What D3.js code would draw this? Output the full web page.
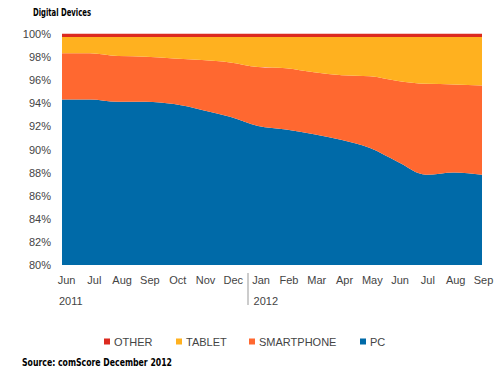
<!DOCTYPE html>
<html lang="en">
<head>
  <meta charset="UTF-8" />
  <title>Digital Devices</title>
  <style>
  body { margin: 0; background: #fff; }
  text { font-family: "Liberation Sans", Arial, sans-serif; }
  .tick text { fill: #444; font-size: 11px; }
  .heavy { font-family: "DejaVu Sans Condensed", "DejaVu Sans", sans-serif; font-weight: bold; fill: #000; }
  </style>
</head>
<body>
  <script src="https://cdn.jsdelivr.net/npm/d3@7"></script>
  <script>
  // months Jun 2011 .. Sep 2012
  var months = ["Jun", "Jul", "Aug", "Sep", "Oct", "Nov", "Dec", "Jan", "Feb", "Mar", "Apr", "May", "Jun", "Jul", "Aug", "Sep"];
  var years = [{label: "2011", at: 0}, {label: "2012", at: 7}];
  var seriesNames = ["PC", "SMARTPHONE", "TABLET", "OTHER"];
  var colors = {PC: "#006aa8", SMARTPHONE: "#ff6830", TABLET: "#ffb11f", OTHER: "#dc2a1f"};

  // share of devices, percent
  var pc         = [94.3, 94.3, 94.1, 94.1, 93.9, 93.4, 92.8, 92.0, 91.7, 91.3, 90.8, 90.1, 88.9, 87.8, 88.0, 87.8];
  var smartphone = [4.0, 4.0, 3.95, 3.9, 3.95, 4.3, 4.7, 5.1, 5.3, 5.35, 5.6, 6.2, 7.0, 7.85, 7.6, 7.7];
  var tablet     = [1.4, 1.4, 1.65, 1.7, 1.85, 2.0, 2.2, 2.6, 2.7, 3.05, 3.3, 3.4, 3.8, 4.05, 4.1, 4.2];
  var other      = [0.3, 0.3, 0.3, 0.3, 0.3, 0.3, 0.3, 0.3, 0.3, 0.3, 0.3, 0.3, 0.3, 0.3, 0.3, 0.3];
  var yTicks = [80, 82, 84, 86, 88, 90, 92, 94, 96, 98, 100];

  var table = months.map(function(m, i) {
    return {i: i, PC: pc[i], SMARTPHONE: smartphone[i], TABLET: tablet[i], OTHER: other[i]};
  });

  var w = 500, h = 370;
  var svg = d3.select("body").append("svg")
    .attr("width", w)
    .attr("height", h);

  var x = d3.scaleLinear().domain([0, months.length - 1]).range([62, 482]);
  var xLab = d3.scalePoint().domain(d3.range(months.length)).range([66, 483]);
  var y = d3.scaleLinear().domain([80, 100]).range([265, 33.5]);

  var stack = d3.stack().keys(seriesNames);
  var layers = stack(table);

  svg.append("clipPath").attr("id", "clip")
    .append("rect").attr("x", 62).attr("y", y(100)).attr("width", 420).attr("height", y(80) - y(100));

  var area = d3.area()
    .curve(d3.curveMonotoneX)
    .x(function(d) { return x(d.data.i); })
    .y0(function(d) { return y(Math.max(d[0], 80)); })
    .y1(function(d) { return y(d[1]); });

  svg.append("g").attr("clip-path", "url(#clip)")
    .selectAll("path")
    .data(layers)
    .enter()
    .append("path")
      .attr("fill", function(d) { return colors[d.key]; })
      .attr("d", area);

  // y axis labels
  var yAxis = d3.axisLeft(y).tickValues(yTicks).tickSize(0).tickPadding(0)
    .tickFormat(function(d) { return d + "%"; });
  svg.append("g")
    .attr("transform", "translate(51,0)")
    .call(yAxis)
    .call(function(g) { g.select(".domain").remove(); })
    .selectAll("text").attr("dy", "0.35em");

  // x axis month labels
  var xAxis = d3.axisBottom(xLab).tickSize(0).tickPadding(0)
    .tickFormat(function(i) { return months[i]; });
  svg.append("g")
    .attr("transform", "translate(0,276)")
    .call(xAxis)
    .call(function(g) { g.select(".domain").remove(); });

  svg.selectAll(".year")
    .data(years)
    .enter()
    .append("text")
      .attr("class", "year")
      .attr("x", function(d) { return xLab(d.at) - 7; })
      .attr("y", 305)
      .attr("fill", "#444")
      .style("font-size", "11px")
      .text(function(d) { return d.label; });

  svg.append("line")
    .attr("x1", 248).attr("x2", 248)
    .attr("y1", 273).attr("y2", 305)
    .attr("stroke", "#999").attr("stroke-width", 1);

  // legend
  var legendOrder = ["OTHER", "TABLET", "SMARTPHONE", "PC"];
  var legendX = [104, 176, 249, 360];
  var legend = svg.selectAll(".legend")
    .data(legendOrder)
    .enter()
    .append("g")
      .attr("class", "legend")
      .attr("transform", function(d, i) { return "translate(" + legendX[i] + ",342)"; });
  legend.append("rect")
    .attr("x", 0).attr("y", -3.5).attr("width", 6).attr("height", 6)
    .attr("fill", function(d) { return colors[d]; });
  legend.append("text")
    .attr("x", 10).attr("dy", "0.35em")
    .attr("fill", "#444")
    .style("font-size", "11px")
    .text(function(d) { return d; });

  svg.append("text")
    .attr("class", "heavy")
    .attr("x", 33).attr("y", 16)
    .attr("textLength", 58).attr("lengthAdjust", "spacingAndGlyphs")
    .style("font-size", "10px")
    .text("Digital Devices");

  svg.append("text")
    .attr("class", "heavy")
    .attr("x", 22).attr("y", 366)
    .attr("textLength", 150).attr("lengthAdjust", "spacingAndGlyphs")
    .style("font-size", "10px")
    .text("Source: comScore December 2012");
  </script>
</body>
</html>
